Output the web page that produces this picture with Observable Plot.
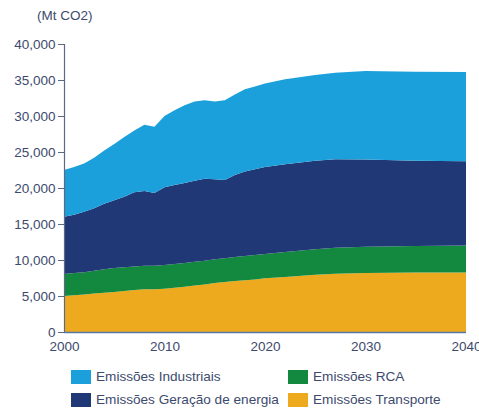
<!DOCTYPE html>
<html>
<head>
<meta charset="utf-8">
<script src="https://cdn.jsdelivr.net/npm/d3@7"></script>
<script src="https://cdn.jsdelivr.net/npm/@observablehq/plot@0.6"></script>
<style>
  html, body { margin: 0; padding: 0; background: #fff; }
  body { font-family: "Liberation Sans", Arial, sans-serif; }
  #wrap { position: relative; width: 479px; height: 412px; overflow: hidden; }
  #unit { position: absolute; left: 37px; top: 8px; font-size: 13.5px; color: #3d4a6e; }
  #legend { position: absolute; left: 71px; top: 369px; display: grid; grid-template-columns: 217px 180px; row-gap: 8px; font-size: 13.6px; color: #3d4a6e; }
  .item { display: flex; align-items: center; height: 15px; white-space: nowrap; }
  .sw { width: 20px; height: 14px; margin-right: 5px; flex: none; }
</style>
</head>
<body>
<div id="wrap">
  <div id="chart"></div>
  <div id="unit">(Mt CO2)</div>
  <div id="legend"></div>
</div>
<script>
const years = [2000,2001,2002,2003,2004,2005,2006,2007,2008,2009,2010,2011,2012,2013,2014,2015,2016,2017,2018,2019,2020,2022,2025,2027,2030,2035,2040];

const transporte = [5000,5100,5200,5350,5450,5550,5700,5850,5950,5950,6000,6150,6300,6450,6600,6800,6950,7100,7200,7300,7450,7650,7950,8100,8200,8250,8250];
const rca = [3050,3100,3100,3150,3250,3350,3300,3250,3250,3250,3300,3300,3300,3300,3300,3300,3300,3300,3350,3400,3400,3450,3550,3600,3650,3700,3750];
const geracao = [7950,8100,8400,8700,9100,9400,9800,10300,10400,10100,10800,10950,11100,11250,11400,11100,10850,11400,11750,11900,12050,12200,12300,12300,12100,11850,11700];
const industriais = [6500,6600,6700,7000,7400,7800,8300,8600,9200,9200,9900,10400,10800,11000,10900,10800,11100,11200,11400,11500,11600,11800,11900,12000,12300,12350,12400];

const seriesNames = ["Emissões Transporte", "Emissões RCA", "Emissões Geração de energia", "Emissões Industriais"];
const seriesColors = ["#eeaa1f", "#13893f", "#213877", "#1ba0db"];
const seriesValues = [transporte, rca, geracao, industriais];

const xTicks = [2000, 2010, 2020, 2030, 2040];
const yTicks = [0, 5000, 10000, 15000, 20000, 25000, 30000, 35000, 40000];

const legendOrder = ["Emissões Industriais", "Emissões RCA", "Emissões Geração de energia", "Emissões Transporte"];

const data = [];
seriesNames.forEach((name, i) => {
  years.forEach((y, j) => data.push({year: y, value: seriesValues[i][j], series: name}));
});

const axisColor = "#5b6886";
const labelColor = "#3d4a6e";

const chart = Plot.plot({
  width: 479,
  height: 360,
  marginLeft: 64,
  marginRight: 13,
  marginTop: 44,
  marginBottom: 28,
  style: { fontFamily: "Liberation Sans, Arial, sans-serif", fontSize: "13px", color: labelColor, background: "transparent" },
  x: { domain: [2000, 2040], ticks: xTicks, tickFormat: "d", tickSize: 0, tickPadding: 8, label: null },
  y: { domain: [0, 40000], ticks: yTicks, tickFormat: d3.format(","), tickSize: 6, tickPadding: 4, label: null },
  color: { domain: seriesNames, range: seriesColors },
  marks: [
    Plot.areaY(data, { x: "year", y: "value", fill: "series", z: "series", order: seriesNames }),
    Plot.axisY({ ticks: yTicks, tickFormat: d3.format(","), tickSize: 6, tickPadding: 3, stroke: axisColor, fill: labelColor, fontSize: 13.5, label: null }),
    Plot.axisX({ ticks: xTicks, tickFormat: "d", tickSize: 0, tickPadding: 9, fill: labelColor, fontSize: 13.5, label: null }),
    Plot.ruleX([2000], { stroke: axisColor, strokeWidth: 1.2 }),
    Plot.ruleY([0], { stroke: "#5577aa", strokeWidth: 1.5 })
  ]
});
document.getElementById("chart").appendChild(chart);

const legend = document.getElementById("legend");
legendOrder.forEach(name => {
  const item = document.createElement("div");
  item.className = "item";
  const sw = document.createElement("span");
  sw.className = "sw";
  sw.style.background = seriesColors[seriesNames.indexOf(name)];
  const t = document.createElement("span");
  t.textContent = name;
  item.appendChild(sw);
  item.appendChild(t);
  legend.appendChild(item);
});
</script>
</body>
</html>
